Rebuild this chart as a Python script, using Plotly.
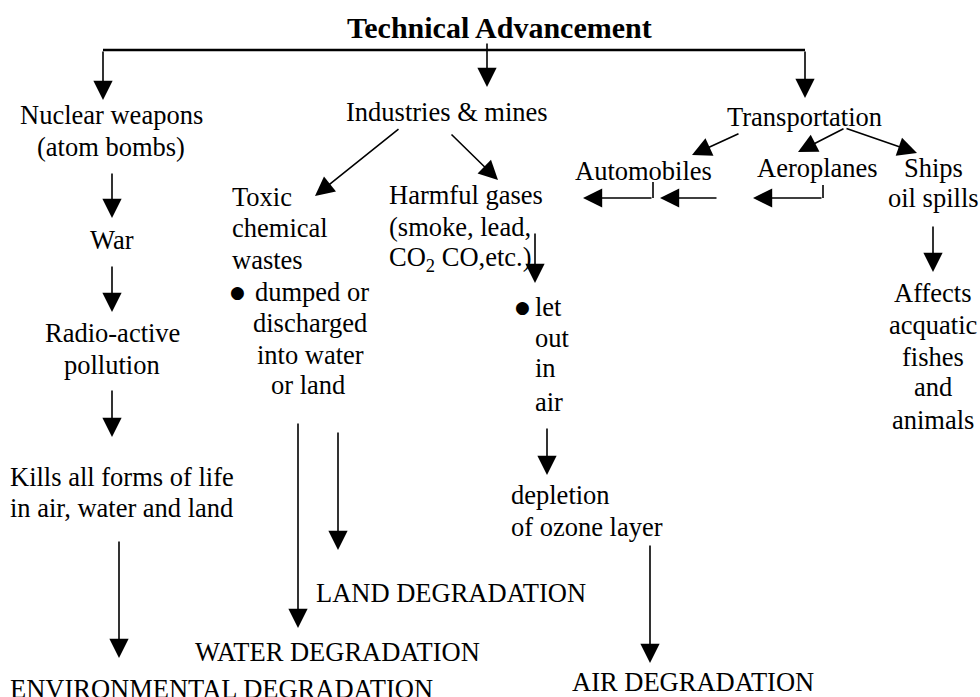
import plotly.graph_objects as go

# ---- diagram content ----
title_text = "Technical Advancement"

node_labels = [
    "Nuclear weapons", "(atom bombs)", "War", "Radio-active", "pollution",
    "Kills all forms of life", "in air, water and land", "ENVIRONMENTAL DEGRADATION",
    "Industries & mines", "Toxic", "chemical", "wastes", "dumped or", "discharged",
    "into water", "or land", "LAND DEGRADATION", "WATER DEGRADATION",
    "Harmful gases", "(smoke, lead,", "CO<sub>2</sub> CO,etc.)", "let", "out", "in", "air",
    "depletion", "of ozone layer", "AIR DEGRADATION",
    "Transportation", "Automobiles", "Aeroplanes", "Ships", "oil spills",
    "Affects", "acquatic", "fishes", "and", "animals",
]

# layout (pixel coordinates of each label, y measured from the top)
node_x = [111, 111, 112, 112, 112,
          8, 8, 8,
          447, 230, 230, 230, 253, 310,
          310, 308, 314, 193,
          387, 387, 387, 533, 533, 533, 533,
          509, 509, 570,
          804, 643, 817, 933, 933,
          933, 933, 933, 933, 933]
node_y = [115, 147, 240, 333, 365,
          477, 508, 689,
          112, 197, 228, 260, 292, 323,
          355, 385, 593, 652,
          195, 227, 259, 307, 338, 368, 402,
          495, 527, 682,
          117, 171, 168, 168, 198,
          293, 325, 357, 387, 420]
node_anchor = ["center", "center", "center", "center", "center",
               "left", "left", "left",
               "center", "left", "left", "left", "left", "center",
               "center", "center", "left", "left",
               "left", "left", "left", "left", "left", "left", "left",
               "left", "left", "left",
               "center", "center", "center", "center", "center",
               "center", "center", "center", "center", "center"]

bullet_x = [237, 522]
bullet_y = [292, 307]

# arrows: tail -> tip
arrow_tail_x = [487, 103, 805, 112, 112, 112, 119, 400, 450, 298, 338, 535, 547, 650,
                740, 845, 845, 653, 718, 823, 933]
arrow_tail_y = [42, 50, 50, 172, 265, 389, 540, 128, 133, 422, 431, 232, 427, 544,
                133, 128, 128, 198, 198, 198, 225]
arrow_tip_x = [487, 103, 805, 112, 112, 112, 119, 315, 498, 298, 338, 535, 547, 650,
               692, 798, 917, 583, 660, 753, 933]
arrow_tip_y = [87, 100, 98, 218, 312, 437, 658, 196, 180, 628, 550, 283, 475, 663,
               155, 152, 153, 198, 198, 198, 272]

# plain connector lines
line_x0 = [103, 653, 823]
line_y0 = [50, 182, 185]
line_x1 = [805, 653, 823]
line_y1 = [50, 198, 198]
line_w = [2.5, 1.6, 1.6]

FONT = "Liberation Serif, Times New Roman, serif"

fig = go.Figure()
fig.add_trace(go.Scatter(x=[0, 980], y=[0, 697], mode="markers",
                         marker=dict(opacity=0), hoverinfo="skip", showlegend=False))

annotations = []
annotations.append(dict(x=499, y=27, xref="x", yref="y", text="<b>" + title_text + "</b>",
                        showarrow=False, xanchor="center", yanchor="middle",
                        font=dict(family=FONT, size=30, color="black")))
for lab, x, y, anc in zip(node_labels, node_x, node_y, node_anchor):
    annotations.append(dict(x=x, y=y, xref="x", yref="y", text=lab, showarrow=False,
                            xanchor=anc, yanchor="middle",
                            font=dict(family=FONT, size=26.5, color="black")))
for x, y in zip(bullet_x, bullet_y):
    annotations.append(dict(x=x, y=y, xref="x", yref="y", text="●", showarrow=False,
                            xanchor="center", yanchor="middle",
                            font=dict(family="DejaVu Sans", size=17, color="black")))
for tx, ty, hx, hy in zip(arrow_tail_x, arrow_tail_y, arrow_tip_x, arrow_tip_y):
    annotations.append(dict(x=hx, y=hy, ax=tx, ay=ty, xref="x", yref="y",
                            axref="x", ayref="y", text="", showarrow=True,
                            arrowhead=2, arrowsize=2.4, arrowwidth=1.6,
                            arrowcolor="black", standoff=0, startstandoff=0))

shapes = []
for x0, y0, x1, y1, w in zip(line_x0, line_y0, line_x1, line_y1, line_w):
    shapes.append(dict(type="line", x0=x0, y0=y0, x1=x1, y1=y1, xref="x", yref="y",
                       line=dict(color="black", width=w)))

fig.update_layout(
    width=980, height=697,
    margin=dict(l=0, r=0, t=0, b=0),
    paper_bgcolor="white", plot_bgcolor="white",
    xaxis=dict(range=[0, 980], visible=False, showgrid=False, zeroline=False, fixedrange=True),
    yaxis=dict(range=[697, 0], visible=False, showgrid=False, zeroline=False, fixedrange=True),
    annotations=annotations, shapes=shapes, showlegend=False,
)

fig.write_html("out.html", config={"displayModeBar": False},
               post_script="document.body.style.margin='0';document.body.style.overflow='hidden';")
